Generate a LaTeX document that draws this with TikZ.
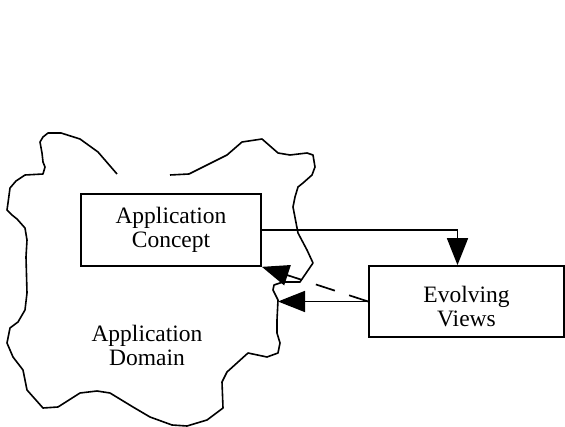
\documentclass[tikz,border=0pt]{standalone}
\usepackage{fontspec}
\setmainfont{Liberation Serif}
\usetikzlibrary{arrows.meta}
\tikzset{
  label/.style={align=center, font=\fontsize{23.5}{24}\selectfont},
  box/.style={label, draw, line width=1.7pt, inner sep=0pt},
  head/.style={-{Triangle[length=27pt,width=21pt]}, line width=1.7pt}
}
\begin{document}
\begin{tikzpicture}[x=1pt,y=-1pt]
    \useasboundingbox (0,0) rectangle (565,427);
    % the domain outline
    \draw[line width=1.6pt, line join=round]
      (117,174) -- (98,152) -- (80,139) -- (61,133) -- (48,133) -- (43,137) -- (40,142)
      -- (42,153) -- (43,162) -- (45,167) -- (43,174) -- (25,175) -- (16,181) -- (10,188)
      -- (8,203) -- (7,210) -- (12,215) -- (17,219) -- (25,228) -- (27,240) -- (26,257)
      -- (27,293) -- (25,310) -- (18,322) -- (10,328) -- (7,343) -- (13,357) -- (23,370)
      -- (25,380) -- (27,390) -- (43,408) -- (58,407) -- (80,393) -- (97,391) -- (110,393)
      -- (133,407) -- (150,417) -- (172,425) -- (187,426) -- (207,420) -- (223,408)
      -- (222,382) -- (227,372) -- (248,353) -- (267,357) -- (278,353) -- (280,343)
      -- (277,333) -- (277,320) -- (278,300) -- (273,290) -- (274,285) -- (283,282)
      -- (300,282) -- (313,263) -- (307,250) -- (298,233) -- (293,207) -- (295,197)
      -- (298,187) -- (303,183) -- (312,175) -- (315,167) -- (313,155) -- (307,153)
      -- (290,155) -- (278,153) -- (262,139) -- (242,142) -- (227,155) -- (189,174)
      -- (170,175);
    \node[label] (domain) at (147,345) {Application\\Domain};
    \node[box, minimum width=180pt, minimum height=72pt] (concept) at (171,230) {Application\\Concept};
    \node[box, minimum width=195pt, minimum height=71pt, text height=51pt] (views) at (466.5,301.5) {Evolving\\Views};
    \coordinate (shore) at (278,301.5);
    \draw[head] (concept.east) -| ([xshift=-9pt]views.north);
    \draw[head] (views.west) -- (shore);
    \draw[head, dash pattern=on 20pt off 15pt] (views.west) -- (concept.south east);
\end{tikzpicture}
\end{document}
